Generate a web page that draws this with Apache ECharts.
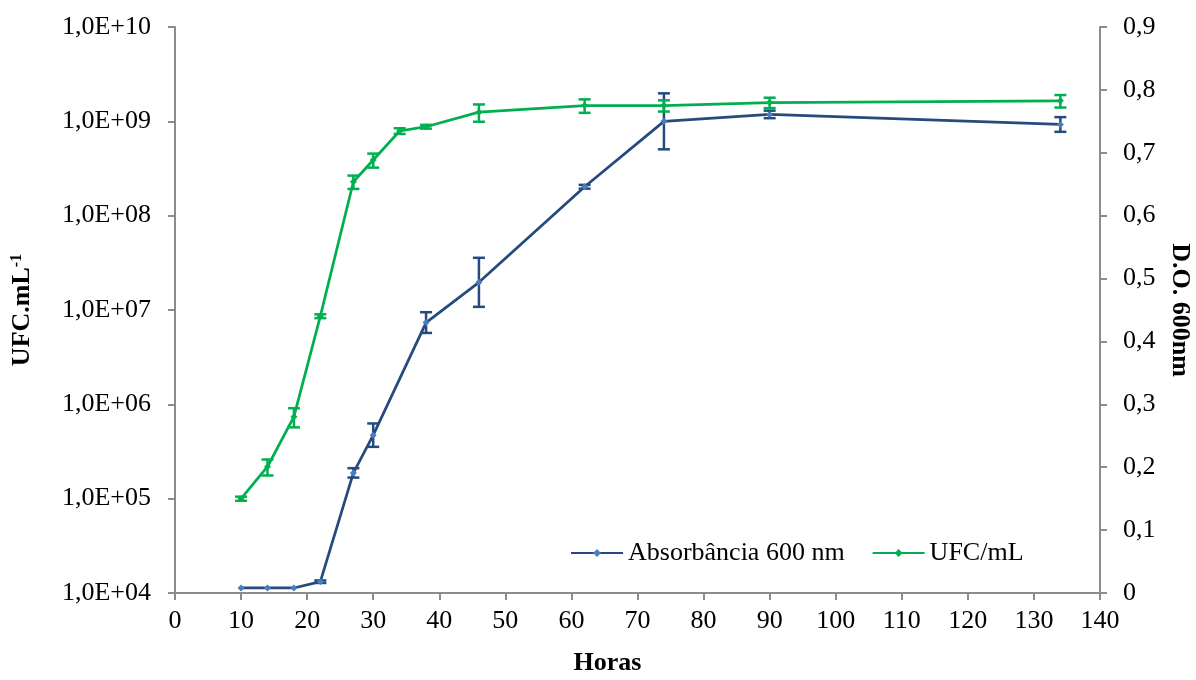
<!DOCTYPE html>
<html>
<head>
<meta charset="utf-8">
<script src="https://cdn.jsdelivr.net/npm/echarts@6/dist/echarts.min.js"></script>
<style>
  html, body { margin: 0; padding: 0; background: #fff; }
  #chart { width: 1196px; height: 680px; }
</style>
</head>
<body>
<div id="chart"></div>
<script>
// horas de cultivo
var horasUfc = [10, 14, 18, 22, 27, 30, 34, 38, 46, 62, 74, 90, 134];
var ufc      = [1.0e5, 2.18e5, 7.4e5, 8.6e6, 2.29e8, 3.89e8, 7.9e8, 8.77e8, 1.25e9, 1.47e9, 1.47e9, 1.58e9, 1.65e9];
var ufcErr   = [0.05e5, 0.42e5, 1.7e5, 0.4e6, 0.37e8, 0.66e8, 0.55e8, 0.4e8, 0.26e9, 0.24e9, 0.2e9, 0.2e9, 0.25e9];

var horasAbs = [10, 14, 18, 22, 27, 30, 38, 46, 62, 74, 90, 134];
var abs600   = [0.008, 0.008, 0.008, 0.018, 0.191, 0.251, 0.430, 0.494, 0.646, 0.750, 0.761, 0.745];
var absErr   = [0, 0, 0, 0.002, 0.0075, 0.0186, 0.0165, 0.039, 0.003, 0.0445, 0.006, 0.0117];

var corAbs = '#254a7e', corAbsPonto = '#4a7ebb';
var corUfc = '#00b050';
var fonte = 'Liberation Serif';
var cinza = '#8c8c8c';

function pares(xs, ys) {
    return xs.map(function (x, i) { return [x, ys[i]]; });
}
function barras(xs, ys, es) {
    return xs.map(function (x, i) { return [x, ys[i] - es[i], ys[i] + es[i]]; });
}

// barra de erro com as duas "tampas"
function desenhaErro(params, api) {
    var x = api.value(0), lo = api.value(1), hi = api.value(2);
    if (hi - lo <= 0) return null;
    var a = api.coord([x, hi]), b = api.coord([x, lo]);
    var w = 6;
    var st = { stroke: api.visual('color'), lineWidth: 2.5 };
    return {
        type: 'group',
        children: [
            { type: 'line', shape: { x1: a[0], y1: a[1], x2: b[0], y2: b[1] }, style: st },
            { type: 'line', shape: { x1: a[0] - w, y1: a[1], x2: a[0] + w, y2: a[1] }, style: st },
            { type: 'line', shape: { x1: b[0] - w, y1: b[1], x2: b[0] + w, y2: b[1] }, style: st }
        ]
    };
}

var myChart = echarts.init(document.getElementById('chart'));

var option = {
    backgroundColor: '#fff',
    animation: false,
    grid: { left: 175, right: 96, top: 27, bottom: 87, containLabel: false, outerBoundsMode: 'none' },
    legend: {
        data: ['Absorbância 600 nm', 'UFC/mL'],
        left: 565,
        top: 535,
        itemWidth: 52,
        itemHeight: 10,
        itemGap: 27,
        textStyle: { fontFamily: fonte, fontSize: 26, color: '#000' }
    },
    xAxis: {
        type: 'value',
        min: 0,
        max: 140,
        interval: 10,
        name: 'Horas',
        nameLocation: 'middle',
        nameGap: 57,
        nameTextStyle: { fontFamily: fonte, fontSize: 26, fontWeight: 'bold', color: '#000', padding: [0, 60, 0, 0] },
        axisLine: { lineStyle: { color: cinza, width: 2 } },
        axisTick: { length: 7, lineStyle: { color: cinza, width: 2 } },
        axisLabel: { margin: 15, fontFamily: fonte, fontSize: 26, color: '#000' },
        splitLine: { show: false }
    },
    yAxis: [
        {
            type: 'log',
            logBase: 10,
            min: 1e4,
            max: 1e10,
            position: 'left',
            name: 'UFC.mL{s|-1}',
            nameLocation: 'middle',
            nameRotate: 90,
            nameGap: 140,
            nameTextStyle: {
                fontFamily: fonte, fontSize: 26, fontWeight: 'bold', color: '#000',
                rich: { s: { fontFamily: fonte, fontSize: 16, fontWeight: 'bold', color: '#000', verticalAlign: 'top', lineHeight: 26 } }
            },
            axisLine: { show: true, lineStyle: { color: cinza, width: 2 } },
            axisTick: { show: true, length: 7, lineStyle: { color: cinza, width: 2 } },
            axisLabel: {
                margin: 24,
                fontFamily: fonte, fontSize: 26, color: '#000',
                formatter: function (v) {
                    var e = Math.round(Math.log10(v));
                    return '1,0E+' + (e < 10 ? '0' + e : e);
                }
            },
            minorTick: { show: false },
            splitLine: { show: false }
        },
        {
            type: 'value',
            min: 0,
            max: 0.9,
            interval: 0.1,
            position: 'right',
            name: 'D.O. 600nm',
            nameLocation: 'middle',
            nameRotate: -90,
            nameGap: 67,
            nameTextStyle: { fontFamily: fonte, fontSize: 26, fontWeight: 'bold', color: '#000' },
            axisLine: { show: true, lineStyle: { color: cinza, width: 2 } },
            axisTick: { show: true, length: 7, lineStyle: { color: cinza, width: 2 } },
            axisLabel: {
                margin: 23,
                fontFamily: fonte, fontSize: 26, color: '#000',
                formatter: function (v) {
                    return v === 0 ? '0' : v.toFixed(1).replace('.', ',');
                }
            },
            splitLine: { show: false }
        }
    ],
    series: [
        {
            name: 'Absorbância 600 nm',
            type: 'line',
            yAxisIndex: 1,
            data: pares(horasAbs, abs600),
            symbol: 'diamond',
            symbolSize: 7,
            lineStyle: { color: corAbs, width: 2.75 },
            itemStyle: { color: corAbsPonto, borderWidth: 0 },
            z: 3
        },
        {
            name: 'errAbs',
            type: 'custom',
            yAxisIndex: 1,
            renderItem: desenhaErro,
            itemStyle: { color: corAbs },
            encode: { x: 0, y: [1, 2] },
            data: barras(horasAbs, abs600, absErr),
            z: 2
        },
        {
            name: 'UFC/mL',
            type: 'line',
            yAxisIndex: 0,
            data: pares(horasUfc, ufc),
            symbol: 'diamond',
            symbolSize: 7,
            lineStyle: { color: corUfc, width: 2.75 },
            itemStyle: { color: corUfc, borderWidth: 0 },
            z: 3
        },
        {
            name: 'errUfc',
            type: 'custom',
            yAxisIndex: 0,
            renderItem: desenhaErro,
            itemStyle: { color: corUfc },
            encode: { x: 0, y: [1, 2] },
            data: barras(horasUfc, ufc, ufcErr),
            z: 2
        }
    ]
};

myChart.setOption(option);
</script>
</body>
</html>
